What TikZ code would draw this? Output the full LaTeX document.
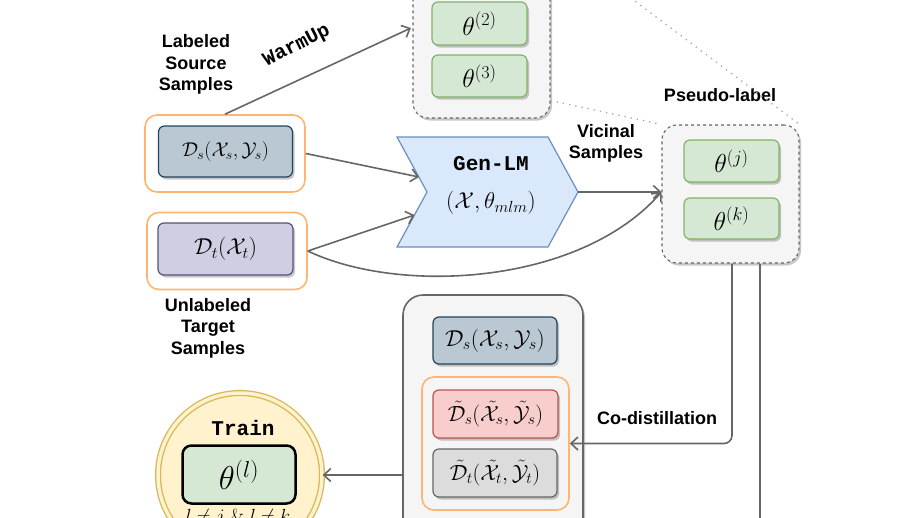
\RequirePackage{fix-cm}
\documentclass[tikz,border=0pt]{standalone}
\usepackage{fontspec}
\setsansfont{Liberation Sans}
\setmonofont{Liberation Mono}
\usetikzlibrary{arrows.meta,shadows,calc}
\definecolor{greenF}{HTML}{D5E8D4}
\definecolor{greenB}{HTML}{82B366}
\definecolor{slateF}{HTML}{BAC8D3}
\definecolor{slateB}{HTML}{23445D}
\definecolor{purpF}{HTML}{D0CEE2}
\definecolor{purpB}{HTML}{56517E}
\definecolor{redF}{HTML}{F8CECC}
\definecolor{redB}{HTML}{B85450}
\definecolor{grayF}{HTML}{DCDCDC}
\definecolor{grayB}{HTML}{666666}
\definecolor{blueF}{HTML}{DAE8FC}
\definecolor{blueB}{HTML}{6C8EBF}
\definecolor{orangeB}{HTML}{FFB570}
\definecolor{lightF}{HTML}{F5F5F5}
\definecolor{yelF}{HTML}{FFF2CC}
\definecolor{yelB}{HTML}{D6B656}
\begin{document}
\begin{tikzpicture}[x=1pt,y=-1pt,
  myshadow/.style={drop shadow={shadow xshift=2pt,shadow yshift=-2.5pt,fill=black,opacity=0.22}},
  mbox/.style={rounded corners=6pt, line width=1.2pt, inner sep=0pt, myshadow},
  gbox/.style={mbox, draw=greenB, fill=greenF, minimum width=95pt, minimum height=42pt,
     font=\fontsize{26}{26}\selectfont},
  sbox/.style={mbox, draw=slateB, fill=slateF},
  obox/.style={draw=orangeB, line width=1.6pt, rounded corners=12pt, inner sep=0pt},
  dgrp/.style={draw=grayB, fill=lightF, dashed, line width=1.1pt, rounded corners=15pt, inner sep=0pt, myshadow},
  lbl/.style={font=\sffamily\bfseries\fontsize{18}{21.5}\selectfont, align=center, inner sep=0pt},
  conn/.style={draw=grayB, line width=1.6pt, -{Straight Barb[length=7pt,width=13pt,line width=1.6pt]}},
  plain/.style={draw=grayB, line width=1.6pt},
  dotl/.style={draw=gray!70, line width=1.3pt, dash pattern=on 1.3pt off 5pt}
]
\useasboundingbox (0,0) rectangle (918,517);
\clip (0,0) rectangle (918,517);

% top group of models
\node[dgrp, minimum width=137pt, minimum height=148pt] (topgrp) at (481.5,44) {};
\node[gbox, minimum height=43pt] (th2) at (479.5,23.5) {$\theta^{(2)}$};
\node[gbox] (th3) at (479.5,76) {$\theta^{(3)}$};

% source / target
\node[lbl] (lss) at (196,64.5) {Labeled\\Source\\Samples};
\node[obox, minimum width=160pt, minimum height=77pt] (og1) at (225,153.5) {};
\node[sbox, minimum width=134pt, minimum height=51pt, font=\fontsize{20}{20}\selectfont] (ds1) at (225.5,151.5)
  {$\mathcal{D}_s(\mathcal{X}_s,\mathcal{Y}_s)$};
\node[obox, minimum width=160pt, minimum height=77pt] (og2) at (227,251) {};
\node[mbox, draw=purpB, fill=purpF, minimum width=135pt, minimum height=52pt, font=\fontsize{23}{23}\selectfont] (dt1) at (225.5,249)
  {$\mathcal{D}_t(\mathcal{X}_t)$};
\node[lbl] (utl) at (208,328) {Unlabeled\\Target\\Samples};

% Gen-LM
\draw[draw=blueB, fill=blueF, line width=1.2pt]
  (397,137) -- (548,137) -- (578,192) -- (548,247) -- (397,247) -- (427,192) -- cycle;
\coordinate (gin1) at (419,177);
\coordinate (gin2) at (414.5,215);
\coordinate (gtip) at (578,192);
\node[font=\ttfamily\bfseries\fontsize{21}{21}\selectfont, inner sep=0pt] (glm) at (491,164) {Gen-LM};
\node[font=\fontsize{23}{23}\selectfont, inner sep=0pt] (glmm) at (491,203) {$(\mathcal{X},\theta_{mlm})$};

% WarmUp
\coordinate (wuend) at (411,28);
\draw[conn] (og1.north) -- (wuend);
\node[font=\ttfamily\bfseries\fontsize{20}{20}\selectfont, rotate=27, inner sep=0pt] (wu) at (297,46) {WarmUp};

% pseudo-label group
\node[lbl] (psl) at (720,95) {Pseudo-label};
\node[dgrp, minimum width=137pt, minimum height=138pt] (pl) at (730.5,194) {};
\node[gbox] (thj) at (731.5,161) {$\theta^{(j)}$};
\node[gbox, minimum height=41pt] (thk) at (731.5,218.5) {$\theta^{(k)}$};
\node[lbl] (vic) at (606,143.5) {Vicinal\\Samples};

% dotted zoom lines
\coordinate (dtop) at (600,-25);
\draw[dotl] ($(topgrp.south east)+(0,-18)$) -- (pl.north west);
\draw[dotl] (dtop) -- (pl.north east);

% connectors into Gen-LM and pseudo-label
\coordinate (plin) at (gtip -| pl.west);
\draw[conn] (og1.east) -- (gin1);
\draw[conn] (og2.east) -- (gin2);
\draw[conn] (gtip) -- (plin);
\draw[conn] (og2.east) .. controls (400,295) and (580,285) .. (plin);

% co-distillation box
\node[draw=grayB, fill=lightF, line width=1.6pt, rounded corners=20pt, minimum width=180pt,
      minimum height=305pt, inner sep=0pt, myshadow] (big) at (493,447.5) {};
\node[sbox, minimum width=124pt, minimum height=47pt, font=\fontsize{23}{23}\selectfont] (ds2) at (495,340.5)
  {$\mathcal{D}_s(\mathcal{X}_s,\mathcal{Y}_s)$};
\node[obox, minimum width=147pt, minimum height=133pt] (og3) at (495.5,443.5) {};
\node[mbox, draw=redB, fill=redF, minimum width=125pt, minimum height=48pt, font=\fontsize{22}{22}\selectfont] (rd) at (495.5,414)
  {$\tilde{\mathcal{D}}_s(\tilde{\mathcal{X}}_s,\tilde{\mathcal{Y}}_s)$};
\node[mbox, draw=grayB, fill=grayF, minimum width=124pt, minimum height=48pt, font=\fontsize{22}{22}\selectfont] (gy) at (495,473)
  {$\tilde{\mathcal{D}}_t(\tilde{\mathcal{X}}_t,\tilde{\mathcal{Y}}_t)$};

\node[lbl] (cod) at (657,418) {Co-distillation};
\draw[conn, rounded corners=8pt] ([xshift=1.5pt]pl.south) |- (og3.east);
\coordinate (offb) at (760,560);
\draw[plain] ([xshift=29.5pt]pl.south) -- (offb |- pl.south) -- (offb);

% train circle
\node[circle, minimum size=164pt, draw=yelB, line width=1.3pt, double=yelF, double distance=3.5pt,
      fill=yelF, inner sep=0pt, myshadow] (circ) at (240,475) {};
\node[font=\ttfamily\bfseries\fontsize{21}{21}\selectfont, inner sep=0pt] (train) at (243,428) {Train};
\node[draw=black, fill=greenF, line width=2.5pt, rounded corners=9pt, minimum width=113pt,
      minimum height=58pt, inner sep=0pt, font=\fontsize{33}{33}\selectfont] (thl) at (239,474.5) {$\theta^{(l)}$};
\node[font=\fontsize{19}{19}\selectfont, inner sep=0pt, anchor=base] (cond) at (238,522) {$l\neq j\ \&\ l\neq k$};
\draw[conn] (big.west |- circ.east) -- (circ.east);
\end{tikzpicture}
\end{document}
